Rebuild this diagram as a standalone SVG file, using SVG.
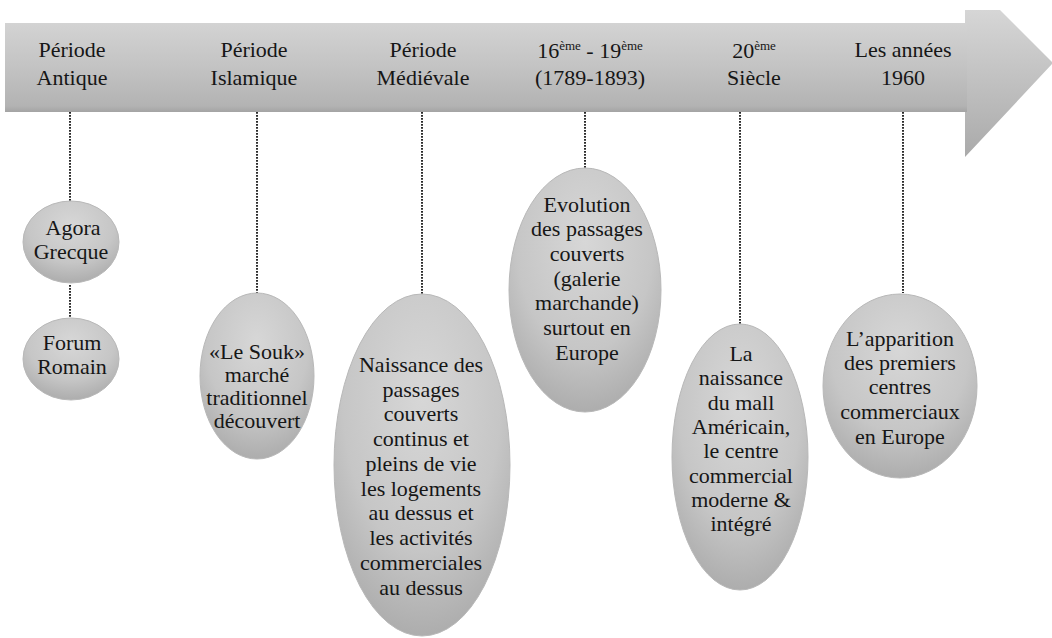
<svg xmlns="http://www.w3.org/2000/svg" width="1052" height="638" viewBox="0 0 1052 638">
<defs>
<linearGradient id="arrowGrad" x1="0" y1="0" x2="0" y2="1">
<stop offset="0" stop-color="#d3d3d3"/>
<stop offset="0.5" stop-color="#c3c3c3"/>
<stop offset="0.93" stop-color="#b3b3b3"/>
<stop offset="1" stop-color="#a4a4a4"/>
</linearGradient>
<linearGradient id="headGrad" x1="0" y1="0" x2="0" y2="1">
<stop offset="0" stop-color="#d6d6d6"/>
<stop offset="1" stop-color="#aaaaaa"/>
</linearGradient>
<radialGradient id="ellGrad" cx="0.5" cy="0.3" r="0.75">
<stop offset="0" stop-color="#d7d7d7"/>
<stop offset="0.6" stop-color="#c6c6c6"/>
<stop offset="1" stop-color="#a8a8a8"/>
</radialGradient>
</defs>
<style>
.hdr{font-family:"Liberation Serif","Times New Roman",serif;font-size:22px;fill:#161616;text-anchor:middle}
.sup{font-size:13px}
.lbl{font-family:"Liberation Serif","Times New Roman",serif;font-size:22px;fill:#161616;text-anchor:middle}
.ell{fill:url(#ellGrad);stroke:#b8b8b8;stroke-width:1}
.dot{stroke:#2a2a2a;stroke-width:2;stroke-dasharray:1.8 1.2;fill:none}
</style>
<rect width="1052" height="638" fill="#ffffff"/>
<g id="timeline-arrow">
<polygon points="5,23 965,23 965,10 1000,10 1053,63 965,157 965,112 5,112" fill="url(#headGrad)"/>
<rect x="5" y="23" width="962" height="89" fill="url(#arrowGrad)"/>
<text class="hdr" x="72" y="57">Période</text>
<text class="hdr" x="72" y="85">Antique</text>
<text class="hdr" x="254" y="57">Période</text>
<text class="hdr" x="254" y="85">Islamique</text>
<text class="hdr" x="423" y="57">Période</text>
<text class="hdr" x="423" y="85">Médiévale</text>
<text class="hdr" x="590" y="58">16<tspan class="sup" dy="-8">ème</tspan><tspan dy="8"> - 19</tspan><tspan class="sup" dy="-8">ème</tspan></text>
<text class="hdr" x="590" y="85">(1789-1893)</text>
<text class="hdr" x="754" y="58">20<tspan class="sup" dy="-8">ème</tspan></text>
<text class="hdr" x="754" y="85">Siècle</text>
<text class="hdr" x="903" y="57">Les années</text>
<text class="hdr" x="903" y="85">1960</text>
</g>
<g id="connectors">
<line class="dot" x1="70" y1="112" x2="70" y2="201"/>
<line class="dot" x1="70" y1="285" x2="70" y2="318"/>
<line class="dot" x1="257" y1="112" x2="257" y2="293"/>
<line class="dot" x1="422" y1="112" x2="422" y2="294"/>
<line class="dot" x1="585" y1="112" x2="585" y2="168"/>
<line class="dot" x1="740" y1="112" x2="740" y2="324"/>
<line class="dot" x1="903" y1="112" x2="903" y2="293"/>
</g>
<g id="node-agora">
<ellipse class="ell" cx="71" cy="242" rx="48" ry="41"/>
<text class="lbl" x="73" y="235">Agora</text>
<text class="lbl" x="71" y="259">Grecque</text>
</g>
<g id="node-forum">
<ellipse class="ell" cx="71" cy="359" rx="48" ry="41"/>
<text class="lbl" x="72" y="350">Forum</text>
<text class="lbl" x="72" y="374">Romain</text>
</g>
<g id="node-souk">
<ellipse class="ell" cx="257" cy="376" rx="57" ry="83"/>
<text class="lbl" x="257" y="359">«Le Souk»</text>
<text class="lbl" x="257" y="382">marché</text>
<text class="lbl" x="257" y="405">traditionnel</text>
<text class="lbl" x="257" y="428">découvert</text>
</g>
<g id="node-medievale">
<ellipse class="ell" cx="422" cy="465" rx="88" ry="171"/>
<text class="lbl" x="421" y="372">Naissance des</text>
<text class="lbl" x="421" y="397">passages</text>
<text class="lbl" x="421" y="421">couverts</text>
<text class="lbl" x="421" y="446">continus et</text>
<text class="lbl" x="421" y="471">pleins de vie</text>
<text class="lbl" x="421" y="496">les logements</text>
<text class="lbl" x="421" y="520">au dessus et</text>
<text class="lbl" x="421" y="545">les activités</text>
<text class="lbl" x="421" y="570">commerciales</text>
<text class="lbl" x="421" y="595">au dessus</text>
</g>
<g id="node-evolution">
<ellipse class="ell" cx="585" cy="290" rx="76" ry="122"/>
<text class="lbl" x="587" y="212">Evolution</text>
<text class="lbl" x="587" y="236">des passages</text>
<text class="lbl" x="587" y="261">couverts</text>
<text class="lbl" x="587" y="286">(galerie</text>
<text class="lbl" x="587" y="310">marchande)</text>
<text class="lbl" x="587" y="335">surtout en</text>
<text class="lbl" x="587" y="360">Europe</text>
</g>
<g id="node-mall">
<ellipse class="ell" cx="740" cy="457" rx="68" ry="133"/>
<text class="lbl" x="741" y="361">La</text>
<text class="lbl" x="741" y="385">naissance</text>
<text class="lbl" x="741" y="410">du mall</text>
<text class="lbl" x="741" y="434">Américain,</text>
<text class="lbl" x="741" y="458">le centre</text>
<text class="lbl" x="741" y="483">commercial</text>
<text class="lbl" x="741" y="507">moderne &amp;</text>
<text class="lbl" x="741" y="531">intégré</text>
</g>
<g id="node-1960">
<ellipse class="ell" cx="900" cy="386" rx="77" ry="92"/>
<text class="lbl" x="900" y="346">L’apparition</text>
<text class="lbl" x="900" y="370">des premiers</text>
<text class="lbl" x="900" y="394">centres</text>
<text class="lbl" x="900" y="419">commerciaux</text>
<text class="lbl" x="900" y="444">en Europe</text>
</g>
</svg>
